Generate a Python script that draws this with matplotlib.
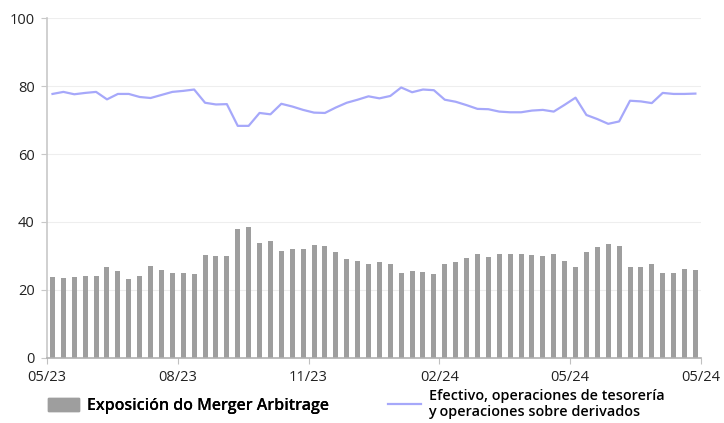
import numpy as np
import matplotlib.pyplot as plt
from matplotlib.patches import Patch
from matplotlib.lines import Line2D

plt.rcParams['font.family'] = ['Open Sans', 'DejaVu Sans']

# weekly exposure to merger arbitrage (%)
merger = [23.8, 23.5, 23.8, 24.1, 24.1, 26.7, 25.6, 23.2, 24.1, 27.0,
          25.8, 25.0, 25.0, 24.7, 30.3, 30.0, 30.0, 37.9, 38.5, 33.8,
          34.4, 31.4, 32.0, 32.0, 33.2, 32.9, 31.2, 29.1, 28.5, 27.6,
          28.2, 27.6, 25.0, 25.6, 25.3, 24.7, 27.6, 28.2, 29.4, 30.6,
          29.7, 30.6, 30.6, 30.6, 30.3, 30.0, 30.6, 28.5, 26.7, 31.2,
          32.6, 33.5, 32.9, 26.7, 26.7, 27.6, 25.0, 25.0, 26.1, 25.8]

# cash, treasury and derivative operations (%)
cash = [77.7, 78.3, 77.6, 78.0, 78.3, 76.1, 77.7, 77.7, 76.8, 76.5,
        77.4, 78.3, 78.6, 79.0, 75.1, 74.6, 74.7, 68.3, 68.3, 72.1,
        71.7, 74.8, 74.0, 73.0, 72.2, 72.1, 73.7, 75.1, 76.0, 77.0,
        76.4, 77.1, 79.6, 78.2, 79.0, 78.8, 76.0, 75.4, 74.4, 73.3,
        73.2, 72.5, 72.3, 72.3, 72.8, 73.0, 72.5, 74.5, 76.6, 71.5,
        70.3, 68.9, 69.6, 75.7, 75.5, 75.0, 78.0, 77.7, 77.7, 77.8]

tick_labels = ['05/23', '08/23', '11/23', '02/24', '05/24', '05/24']

bar_color = '#9e9e9e'
line_color = '#a6a8fa'

fig = plt.figure(figsize=(7.24, 4.23), dpi=100)
ax = fig.add_axes([0.065, 0.154, 0.903, 0.803])

x = np.arange(len(merger))
ax.bar(x, merger, width=0.46, color=bar_color, zorder=2)
ax.plot(x, cash, color=line_color, lw=1.6, zorder=3)

ax.set_xlim(-0.5, len(merger) - 0.5)
ax.set_ylim(0, 100)
ax.set_yticks(range(0, 101, 20))
ax.set_xticks(np.arange(-0.5, len(merger), 12))
ax.set_xticklabels(tick_labels)

ax.grid(axis='y', color='#eeeeee', lw=0.8, zorder=0)
for s in ['top', 'right']:
    ax.spines[s].set_visible(False)
ax.spines['left'].set_color('#c8c8c8')
ax.spines['left'].set_linewidth(1.2)
ax.spines['bottom'].set_color('#b0b0b0')
ax.spines['bottom'].set_linewidth(1.2)
ax.tick_params(axis='both', labelsize=10.5, colors='#222222', length=4,
               width=0.8, pad=5)
ax.tick_params(axis='x', color='#c0c0c0')
ax.tick_params(axis='y', color='#c8c8c8', length=4)

leg1 = fig.legend(handles=[Patch(color=bar_color)],
                  labels=['Exposición do Merger Arbitrage'],
                  loc='center left', bbox_to_anchor=(0.0663, 0.040),
                  frameon=False, borderpad=0, borderaxespad=0,
                  handlelength=1.95, handleheight=0.87,
                  handletextpad=0.5, prop={'size': 11.5, 'weight': 'semibold'})
fig.legend(handles=[Line2D([], [], color=line_color, lw=1.6)],
           labels=['Efectivo, operaciones de tesorería\ny operaciones sobre derivados'],
           loc='center left', bbox_to_anchor=(0.536, 0.045),
           frameon=False, borderpad=0, borderaxespad=0,
           handlelength=2.3, handletextpad=0.5,
           prop={'size': 10.4, 'weight': 'semibold'})
fig.add_artist(leg1)

fig.savefig('out.png', dpi=100)
